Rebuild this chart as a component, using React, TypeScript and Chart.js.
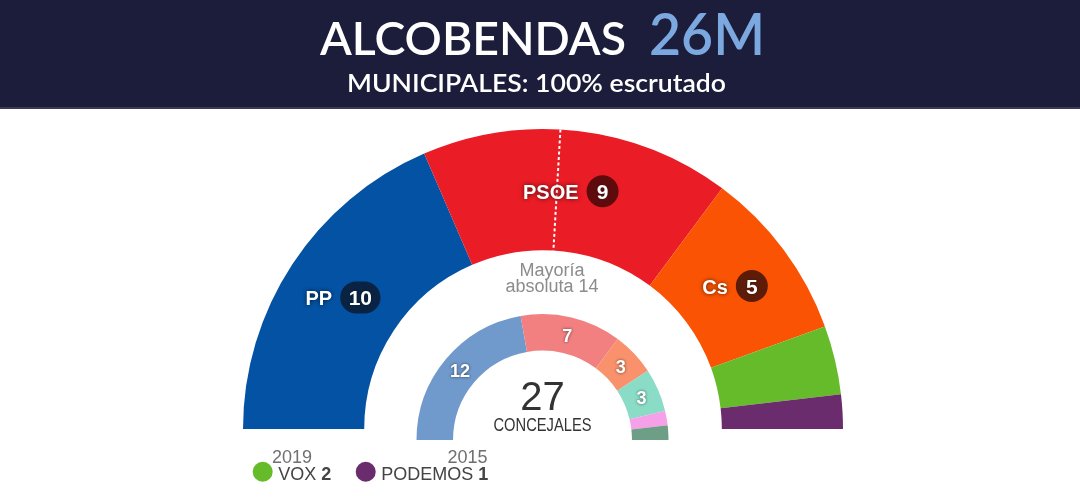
import React, { useEffect, useRef } from 'react';
import { Chart, registerables } from 'chart.js';

Chart.register(...registerables);

// ---- Data ----
const parties2019 = ['PP', 'PSOE', 'Cs', 'VOX', 'PODEMOS'];
const seats2019 = [10, 9, 5, 2, 1];
const colors2019 = ['#0452A4', '#EA1C25', '#FB5304', '#66BB2B', '#6B2C6E'];
const pillColors2019 = ['#0B2342', '#5E0B0E', '#5C1C08', '#2F5A14', '#3A1540'];
const onRing2019 = [true, true, true, false, false];

const parties2015 = ['PP', 'PSOE', 'Cs', 'Somos Alcobendas', 'UPyD', 'Ganar Alcobendas'];
const seats2015 = [12, 7, 3, 3, 1, 1];
const colors2015 = ['#7099CC', '#F28080', '#F8916C', '#8ADCC6', '#F5A0E8', '#6F9E86'];
const minLabel2015 = 3;

const majoritySeats = 14;
const titleText = 'ALCOBENDAS';
const titleTag = '26M';
const subtitleText = 'MUNICIPALES: 100% escrutado';
const majorityLines = ['Mayoría', 'absoluta 14'];
const centerLabel = 'CONCEJALES';
const ringYears = ['2019', '2015'];

const totalSeats = seats2019.reduce((a, b) => a + b, 0);

const SANS = '"Liberation Sans", Arial, Helvetica, sans-serif';
const HEAD = 'Lato, "Open Sans", sans-serif';

function fitText(ctx: CanvasRenderingContext2D, text: string, x: number, y: number, width: number) {
  const w = ctx.measureText(text).width;
  ctx.save();
  ctx.translate(x, y);
  ctx.scale(width / w, 1);
  ctx.textAlign = 'left';
  ctx.textBaseline = 'alphabetic';
  ctx.fillText(text, 0, 0);
  ctx.restore();
}

function drawBadge(ctx: CanvasRenderingContext2D, cx: number, cy: number, name: string, num: number, pill: string) {
  ctx.save();
  ctx.font = `bold 20px ${SANS}`;
  const tw = ctx.measureText(name).width;
  ctx.font = `bold 21px ${SANS}`;
  const nw = ctx.measureText(String(num)).width;
  const ph = 32;
  const pw = Math.max(ph, nw + 17);
  const gap = 8;
  const total = tw + gap + pw;
  const x = cx - total / 2;
  ctx.textBaseline = 'alphabetic';
  ctx.font = `bold 20px ${SANS}`;
  ctx.textAlign = 'left';
  ctx.fillStyle = '#ffffff';
  ctx.shadowColor = 'rgba(0,0,0,0.7)';
  ctx.shadowBlur = 4;
  ctx.fillText(name, x, cy + 7.5);
  ctx.shadowBlur = 0;
  ctx.shadowColor = 'transparent';
  const px = x + tw + gap;
  ctx.fillStyle = pill;
  ctx.beginPath();
  ctx.roundRect(px, cy - ph / 2, pw, ph, ph / 2);
  ctx.fill();
  ctx.font = `bold 21px ${SANS}`;
  ctx.textAlign = 'center';
  ctx.fillStyle = '#ffffff';
  ctx.shadowColor = 'rgba(0,0,0,0.4)';
  ctx.shadowBlur = 2;
  ctx.fillText(String(num), px + pw / 2, cy + 7.5);
  ctx.restore();
}

const outerPlugin = {
  id: 'outerDecor',
  beforeDraw(chart: any) {
    const ctx: CanvasRenderingContext2D = chart.ctx;
    ctx.save();
    ctx.fillStyle = '#ffffff';
    ctx.fillRect(0, 0, chart.width, chart.height);
    ctx.fillStyle = '#1C1D3B';
    ctx.fillRect(0, 0, chart.width, 108);
    ctx.fillStyle = '#3A3B52';
    ctx.fillRect(0, 107, chart.width, 2);

    ctx.fillStyle = '#ffffff';
    ctx.font = `600 46px ${HEAD}`;
    fitText(ctx, titleText, 320, 55, 306);
    const g = ctx.createLinearGradient(649, 0, 765, 0);
    g.addColorStop(0, '#7CA8E0');
    g.addColorStop(1, '#C4DEF7');
    ctx.fillStyle = g;
    ctx.font = `600 58px ${HEAD}`;
    fitText(ctx, titleTag, 649, 55, 116);
    ctx.fillStyle = '#ffffff';
    ctx.font = `600 25px ${HEAD}`;
    fitText(ctx, subtitleText, 347, 92, 379);
    ctx.restore();
  },
  afterDatasetsDraw(chart: any) {
    const ctx: CanvasRenderingContext2D = chart.ctx;
    const arcs = chart.getDatasetMeta(0).data;
    const first = arcs[0];
    const last = arcs[arcs.length - 1];
    const cx = first.x;
    const cy = first.y;
    const ri = first.innerRadius;
    const ro = first.outerRadius;
    const start = first.startAngle;
    const span = last.endAngle - first.startAngle;
    const ang = start + (majoritySeats / totalSeats) * span;

    ctx.save();
    ctx.strokeStyle = '#ffffff';
    ctx.lineWidth = 2;
    ctx.setLineDash([3, 2.5]);
    ctx.beginPath();
    ctx.moveTo(cx + Math.cos(ang) * ro, cy + Math.sin(ang) * ro);
    ctx.lineTo(cx + Math.cos(ang) * ri, cy + Math.sin(ang) * ri);
    ctx.stroke();
    ctx.restore();

    ctx.save();
    ctx.fillStyle = '#8C8C8C';
    ctx.font = `18px ${SANS}`;
    ctx.textAlign = 'center';
    ctx.textBaseline = 'alphabetic';
    const tx = cx + Math.cos(ang) * 155;
    ctx.fillText(majorityLines[0], tx, cy - 153);
    ctx.fillText(majorityLines[1], tx, cy - 137);
    ctx.restore();

    arcs.forEach((arc: any, i: number) => {
      if (!onRing2019[i]) return;
      const p = arc.getCenterPoint();
      drawBadge(ctx, p.x, p.y, parties2019[i], seats2019[i], pillColors2019[i]);
    });

    ctx.save();
    ctx.fillStyle = '#707070';
    ctx.font = `18px ${SANS}`;
    ctx.textAlign = 'center';
    ctx.textBaseline = 'alphabetic';
    ctx.fillText(ringYears[0], cx - ro + 49, 462.5);
    ctx.restore();

    ctx.save();
    let x = 252.7;
    const ly = 471.7;
    ctx.textBaseline = 'alphabetic';
    ctx.textAlign = 'left';
    parties2019.forEach((name, i) => {
      if (onRing2019[i]) return;
      ctx.fillStyle = colors2019[i];
      ctx.beginPath();
      ctx.arc(x + 10, ly, 10, 0, Math.PI * 2);
      ctx.fill();
      x += 20 + 5.5;
      ctx.fillStyle = '#444444';
      ctx.font = `18px ${SANS}`;
      ctx.fillText(name, x, 480);
      x += ctx.measureText(name).width + 5;
      ctx.font = `bold 18px ${SANS}`;
      ctx.fillText(String(seats2019[i]), x, 480);
      x += ctx.measureText(String(seats2019[i])).width + 24.5;
    });
    ctx.restore();
  },
};

const innerPlugin = {
  id: 'innerDecor',
  afterDatasetsDraw(chart: any) {
    const ctx: CanvasRenderingContext2D = chart.ctx;
    const arcs = chart.getDatasetMeta(0).data;
    const first = arcs[0];
    const cx = first.x;
    const cy = first.y;
    const ro = first.outerRadius;

    ctx.save();
    ctx.font = `bold 18px ${SANS}`;
    ctx.textAlign = 'center';
    ctx.textBaseline = 'alphabetic';
    ctx.fillStyle = '#ffffff';
    ctx.shadowColor = 'rgba(0,0,0,0.6)';
    ctx.shadowBlur = 3;
    arcs.forEach((arc: any, i: number) => {
      if (seats2015[i] < minLabel2015) return;
      const p = arc.getCenterPoint();
      ctx.fillText(String(seats2015[i]), p.x, p.y + 6.5);
    });
    ctx.restore();

    ctx.save();
    ctx.fillStyle = '#333333';
    ctx.textAlign = 'center';
    ctx.textBaseline = 'alphabetic';
    ctx.font = `40px ${SANS}`;
    ctx.fillText(String(seats2015.reduce((a, b) => a + b, 0)), cx, cy - 30);
    ctx.font = `17.5px ${SANS}`;
    ctx.fillText(centerLabel, cx, cy - 9, 98);
    ctx.fillStyle = '#707070';
    ctx.font = `18px ${SANS}`;
    ctx.fillText(ringYears[1], cx - ro + 51, 462.5);
    ctx.restore();
  },
};

export default function App() {
  const outerRef = useRef<HTMLCanvasElement>(null);
  const innerRef = useRef<HTMLCanvasElement>(null);

  useEffect(() => {
    const outer = new Chart(outerRef.current as HTMLCanvasElement, {
      type: 'doughnut',
      data: {
        labels: parties2019,
        datasets: [
          {
            data: seats2019,
            backgroundColor: colors2019,
            borderWidth: 0,
            hoverOffset: 0,
          },
        ],
      },
      options: {
        responsive: false,
        animation: false,
        events: [],
        rotation: -90,
        circumference: 180,
        cutout: '59.6%',
        layout: { padding: { left: 243, top: 129, right: 237, bottom: 71 } },
        plugins: { legend: { display: false }, tooltip: { enabled: false }, title: { display: false } },
      },
      plugins: [outerPlugin],
    } as any);

    const inner = new Chart(innerRef.current as HTMLCanvasElement, {
      type: 'doughnut',
      data: {
        labels: parties2015,
        datasets: [
          {
            data: seats2015,
            backgroundColor: colors2015,
            borderWidth: 0,
            hoverOffset: 0,
          },
        ],
      },
      options: {
        responsive: false,
        animation: false,
        events: [],
        rotation: -90,
        circumference: 180,
        cutout: '71%',
        layout: { padding: { left: 416, top: 314, right: 411, bottom: 60 } },
        plugins: { legend: { display: false }, tooltip: { enabled: false }, title: { display: false } },
      },
      plugins: [innerPlugin],
    } as any);

    let alive = true;
    const fonts = (document as any).fonts;
    if (fonts && fonts.load) {
      Promise.all([fonts.load(`600 46px ${HEAD}`), fonts.load(`18px ${SANS}`), fonts.load(`bold 18px ${SANS}`)])
        .then(() => {
          if (alive) {
            outer.draw();
            inner.draw();
          }
        })
        .catch(() => {});
    }
    return () => {
      alive = false;
      outer.destroy();
      inner.destroy();
    };
  }, []);

  return (
    <div style={{ position: 'absolute', left: 0, top: 0, width: 1080, height: 500, background: '#ffffff', overflow: 'hidden' }}>
      <canvas ref={outerRef} width={1080} height={500} style={{ position: 'absolute', left: 0, top: 0 }} />
      <canvas ref={innerRef} width={1080} height={500} style={{ position: 'absolute', left: 0, top: 0 }} />
    </div>
  );
}
